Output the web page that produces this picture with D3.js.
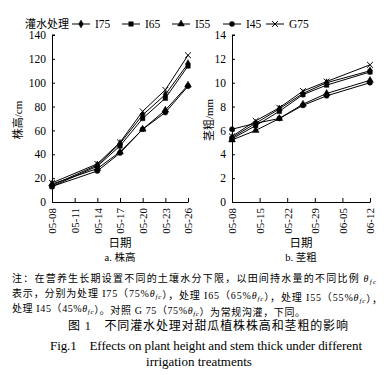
<!DOCTYPE html>
<html>
<head>
<meta charset="utf-8">
<script src="https://cdn.jsdelivr.net/npm/d3@7"></script>
<style>
  body { margin: 0; background: #fff; }
  text { font-family: "Liberation Serif", "Noto Sans CJK SC", serif; fill: #000; }
</style>
</head>
<body>
<script>
// series names and legend
const series = ['I75', 'I65', 'I55', 'I45', 'G75'];
const markers = ['diamond', 'square', 'triangle', 'circle', 'cross'];

// a. plant height (cm)
const heightDates = ['05-08', '05-14', '05-17', '05-20', '05-23', '05-26'];
const heightI75 = [14, 31, 49, 73, 90, 116];
const heightI65 = [13, 30, 47, 70, 87, 114];
const heightI55 = [15, 28, 42, 61, 77, 98];
const heightI45 = [13, 26, 41, 61, 75, 97];
const heightG75 = [16, 32, 50, 76, 94, 123];
const heightTicks = ['05-08', '05-11', '05-14', '05-17', '05-20', '05-23', '05-26'];
const heightYTicks = [0, 20, 40, 60, 80, 100, 120, 140];

// b. stem thickness (mm)
const stemDates = ['05-08', '05-14', '05-20', '05-26', '06-01', '06-12'];
const stemI75 = [5.4, 6.6, 7.8, 9.1, 10.0, 11.0];
const stemI65 = [5.3, 6.4, 7.6, 9.0, 9.8, 10.9];
const stemI55 = [5.2, 6.0, 7.0, 8.2, 9.1, 10.2];
const stemI45 = [6.1, 6.6, 7.0, 8.1, 8.9, 10.0];
const stemG75 = [5.5, 6.8, 7.9, 9.3, 10.1, 11.5];
const stemTicks = ['05-08', '05-15', '05-22', '05-29', '06-05', '06-12'];
const stemYTicks = [0, 2, 4, 6, 8, 10, 12, 14];

const parse = d3.timeParse('%Y-%m-%d');
const toDate = s => parse('2010-' + s);

const svg = d3.select('body').append('svg')
  .attr('width', 389).attr('height', 375);

const symbolOf = {
  diamond: d3.symbol().type(d3.symbolDiamond).size(18),
  square: d3.symbol().type(d3.symbolSquare).size(20),
  triangle: d3.symbol().type(d3.symbolTriangle).size(20),
  circle: d3.symbol().type(d3.symbolCircle).size(20),
  cross: d3.symbol().type(d3.symbolTimes).size(24)
};

function drawMarker(g, kind, x, y) {
  g.append('path')
    .attr('d', symbolOf[kind]())
    .attr('transform', 'translate(' + x + ',' + y + ')')
    .attr('fill', kind === 'cross' ? 'none' : '#000')
    .attr('stroke', '#000')
    .attr('stroke-width', kind === 'cross' ? 1 : 0.5);
}

function drawPanel(opt) {
  const x = d3.scaleTime()
    .domain([toDate(opt.ticks[0]), toDate(opt.ticks[opt.ticks.length - 1])])
    .range([opt.left, opt.right]);
  const y = d3.scaleLinear()
    .domain([0, opt.yTicks[opt.yTicks.length - 1]])
    .range([202, 35]);

  const g = svg.append('g');

  // axes: ticks point inward
  const yAxis = d3.axisLeft(y).tickValues(opt.yTicks).tickSizeInner(-3).tickSizeOuter(0).tickPadding(6);
  const yg = g.append('g').attr('transform', 'translate(' + opt.left + ',0)').call(yAxis);
  yg.select('.domain').attr('stroke', '#000');
  yg.selectAll('.tick line').attr('stroke', '#000');
  yg.selectAll('.tick text').attr('font-size', 11.5)
    .style('font-family', '"Liberation Serif", serif');
  // top tick
  g.append('line').attr('x1', opt.left).attr('x2', opt.left + 3)
    .attr('y1', y(opt.yTicks[opt.yTicks.length - 1])).attr('y2', y(opt.yTicks[opt.yTicks.length - 1]))
    .attr('stroke', '#000');

  const xAxis = d3.axisBottom(x).tickValues(opt.ticks.map(toDate))
    .tickFormat(d3.timeFormat('%m-%d')).tickSizeInner(-4).tickSizeOuter(0).tickPadding(4);
  const xg = g.append('g').attr('transform', 'translate(0,202)').call(xAxis);
  xg.select('.domain').attr('stroke', '#000');
  xg.selectAll('.tick line').attr('stroke', '#000');
  xg.selectAll('.tick text')
    .attr('font-size', 11)
    .style('font-family', '"Liberation Serif", serif')
    .attr('text-anchor', 'end')
    .attr('dy', '0.35em')
    .attr('transform', 'translate(0,' + 1 + ') rotate(-90)')
    .attr('x', -5).attr('y', 0);

  // lines and markers
  opt.values.forEach(function (vals, i) {
    const pts = vals.map((v, j) => [x(toDate(opt.dates[j])), y(v)]);
    g.append('path')
      .attr('d', d3.line()(pts))
      .attr('fill', 'none')
      .attr('stroke', '#000')
      .attr('stroke-width', 1);
    pts.forEach(p => drawMarker(g, markers[i], p[0], p[1]));
  });

  // labels
  g.append('text')
    .attr('transform', 'translate(' + opt.yLabelX + ',120) rotate(-90)')
    .attr('text-anchor', 'middle')
    .attr('font-size', 11)
    .text(opt.yLabel);
  g.append('text')
    .attr('x', (opt.left + opt.right) / 2).attr('y', 247)
    .attr('text-anchor', 'middle').attr('font-size', 11.5)
    .text('日期');
  g.append('text')
    .attr('x', (opt.left + opt.right) / 2).attr('y', 261)
    .attr('text-anchor', 'middle').attr('font-size', 10.5)
    .text(opt.caption);
}

drawPanel({
  left: 52, right: 188,
  dates: heightDates, ticks: heightTicks, yTicks: heightYTicks,
  values: [heightI75, heightI65, heightI55, heightI45, heightG75],
  yLabel: '株高/cm', yLabelX: 22, caption: 'a. 株高'
});

drawPanel({
  left: 232, right: 370,
  dates: stemDates, ticks: stemTicks, yTicks: stemYTicks,
  values: [stemI75, stemI65, stemI55, stemI45, stemG75],
  yLabel: '茎粗/mm', yLabelX: 213, caption: 'b. 茎粗'
});

// legend
const legend = svg.append('g');
legend.append('text').attr('x', 25).attr('y', 28).attr('font-size', 11).text('灌水处理');
const legendX = [72, 122, 172, 223, 266];
series.forEach(function (name, i) {
  const lx = legendX[i];
  legend.append('line').attr('x1', lx).attr('x2', lx + 18)
    .attr('y1', 24).attr('y2', 24).attr('stroke', '#000');
  drawMarker(legend, markers[i], lx + 9, 24);
  legend.append('text').attr('x', lx + 23).attr('y', 28)
    .attr('font-size', 11.5).text(name);
});

// note
const notes = svg.append('g').attr('font-size', 10);
function noteLine(y, parts, len) {
  const t = notes.append('text').attr('x', 12).attr('y', y);
  parts.forEach(function (p) {
    if (p === 'θ') {
      t.append('tspan').attr('font-style', 'italic').text('θ');
      t.append('tspan').attr('font-style', 'italic').attr('font-size', 7).attr('dy', 2).text('fc');
      t.append('tspan').attr('dy', -2).text('');
    } else {
      t.append('tspan').text(p);
    }
  });
  if (len) t.attr('textLength', len).attr('lengthAdjust', 'spacing');
}
noteLine(282, ['注：在营养生长期设置不同的土壤水分下限，以田间持水量的不同比例 ', 'θ'], 364);
noteLine(297, ['表示，分别为处理 I75（75%', 'θ', '），处理 I65（65%', 'θ', '），处理 I55（55%', 'θ', '），'], 370);
noteLine(312, ['处理 I45（45%', 'θ', '）。对照 G 75（75%', 'θ', '）为常规沟灌，下同。'], 293);

svg.append('text').attr('x', 68).attr('y', 330).attr('font-size', 12)
  .attr('textLength', 280).attr('lengthAdjust', 'spacing')
  .text('图 1　不同灌水处理对甜瓜植株株高和茎粗的影响');
svg.append('text').attr('x', 50).attr('y', 350).attr('font-size', 13)
  .attr('textLength', 312).attr('lengthAdjust', 'spacing')
  .text('Fig.1　Effects on plant height and stem thick under different');
svg.append('text').attr('x', 199).attr('y', 366).attr('font-size', 13)
  .attr('text-anchor', 'middle')
  .text('irrigation treatments');
</script>
</body>
</html>
